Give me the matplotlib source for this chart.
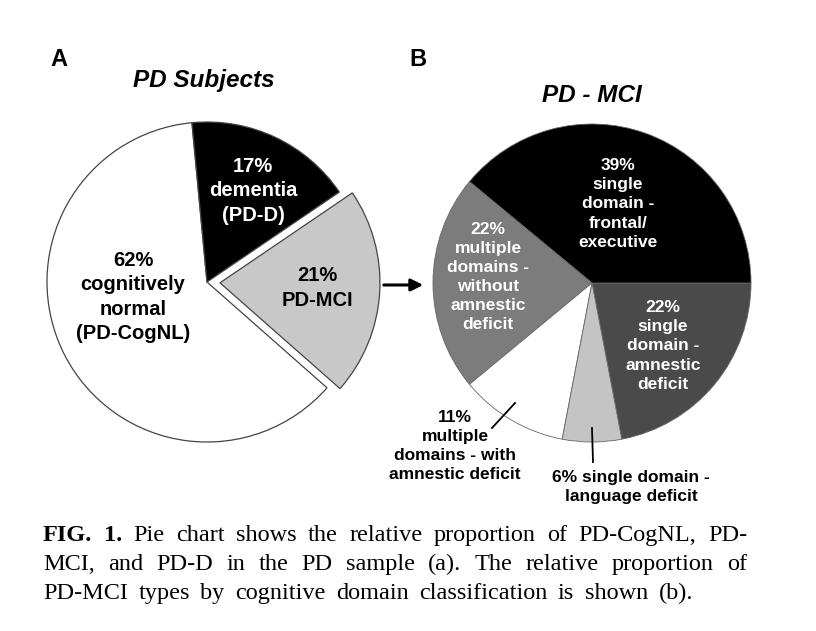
import matplotlib.pyplot as plt
import numpy as np

# data
pd_labels = ["62%\ncognitively\nnormal\n(PD-CogNL)", "21%\nPD-MCI", "17%\ndementia\n(PD-D)"]
pd_values = [62, 21, 17]
pd_colors = ["white", "#c8c8c8", "black"]
pd_text_colors = ["black", "black", "white"]

mci_labels = ["22%\nsingle\ndomain -\namnestic\ndeficit",
              "39%\nsingle\ndomain -\nfrontal/\nexecutive",
              "22%\nmultiple\ndomains -\nwithout\namnestic\ndeficit",
              "11%\nmultiple\ndomains - with\namnestic deficit",
              "6% single domain -\nlanguage deficit"]
mci_values = [22, 39, 22, 11, 6]
mci_colors = ["#4a4a4a", "black", "#7c7c7c", "white", "#c4c4c4"]
mci_text_colors = ["white", "white", "white", "black", "black"]

caption = [
    "FIG. 1. Pie chart shows the relative proportion of PD-CogNL, PD-",
    "MCI, and PD-D in the PD sample (a). The relative proportion of",
    "PD-MCI types by cognitive domain classification is shown (b).",
]

W, H = 816, 631
fig = plt.figure(figsize=(W / 100, H / 100), dpi=100)
ax = fig.add_axes([0, 0, 1, 1])

def Y(y):
    return H - y

sans = "Liberation Sans"

# left pie (explode is in data units = pixels here)
ax.pie(pd_values, colors=pd_colors, startangle=95.4, center=(207, Y(282)), radius=160,
       explode=[0, 13, 0], wedgeprops=dict(edgecolor="#444444", linewidth=0.9))
pd_pos = [(133, 297), (317, 288), (253, 191)]
for lab, (x, y), c in zip(pd_labels, pd_pos, pd_text_colors):
    ax.text(x, Y(y), lab, ha="center", va="center", color=c, fontsize=14.5,
            fontweight="bold", family=sans, linespacing=1.36)

# right pie
ax.pie(mci_values, colors=mci_colors, startangle=280.8, center=(592, Y(283)), radius=159,
       wedgeprops=dict(edgecolor="#666666", linewidth=0.6))
mci_pos = [(663, 346), (618, 204), (488, 277), (455, 446), (631, 487)]
for lab, (x, y), c in zip(mci_labels, mci_pos, mci_text_colors):
    ax.text(x, Y(y), lab, ha="center", va="center", color=c, fontsize=12.5,
            fontweight="bold", family=sans, linespacing=1.34)

# leader lines
ax.plot([492, 515], [Y(428), Y(403)], color="black", lw=1.3)
ax.plot([592, 593], [Y(428), Y(462)], color="black", lw=1.3)

# arrow between pies
ax.annotate("", xy=(426, Y(285)), xytext=(381, Y(285)),
            arrowprops=dict(arrowstyle="-|>", color="black", lw=2.2, mutation_scale=18))

# panel letters and titles
ax.text(50, Y(66), "A", fontsize=17, fontweight="bold", family=sans, va="baseline")
ax.text(409, Y(66), "B", fontsize=17, fontweight="bold", family=sans, va="baseline")
ax.text(204, Y(80), "PD Subjects", fontsize=17.5, fontweight="bold", style="italic",
        family=sans, ha="center", va="center")
ax.text(592, Y(96), "PD - MCI", fontsize=17.5, fontweight="bold", style="italic",
        family=sans, ha="center", va="center")

ax.set_xlim(0, W)
ax.set_ylim(0, H)
ax.set_aspect("equal")
ax.axis("off")

# caption, justified
serif = "Liberation Serif"
fs = 17.5
x0 = 43
line_end = [747, 747, 693]
line_y = [541, 570, 599]
renderer = fig.canvas.get_renderer()
for i, (line, ly, x1) in enumerate(zip(caption, line_y, line_end)):
    words = line.split(" ")
    texts = []
    for j, w in enumerate(words):
        bold = i == 0 and j < 2
        t = ax.text(0, Y(ly), w, fontsize=fs, family=serif, va="baseline",
                    fontweight="bold" if bold else "normal")
        texts.append(t)
    widths = [t.get_window_extent(renderer).width for t in texts]
    gap = (x1 - x0 - sum(widths)) / (len(words) - 1)
    x = x0
    for t, w in zip(texts, widths):
        t.set_x(x)
        x += w + gap

fig.savefig("out.png", dpi=100)
